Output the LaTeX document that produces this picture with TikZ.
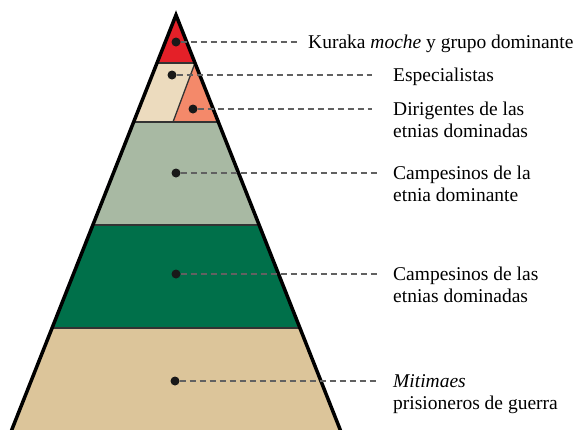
\documentclass[tikz,border=0pt]{standalone}
\usepackage{fontspec}
\setmainfont{Liberation Serif}
\definecolor{kuraka}{RGB}{228,32,40}
\definecolor{espec}{RGB}{236,219,190}
\definecolor{dirig}{RGB}{244,137,106}
\definecolor{campdom}{RGB}{168,185,163}
\definecolor{campsub}{RGB}{0,112,74}
\definecolor{mitimae}{RGB}{220,197,154}
\begin{document}
\begin{tikzpicture}[x=1pt,y=-1pt,
 band/.style={draw=black!80,line width=1.3pt},
 dot/.style={circle,fill=black!90,inner sep=0pt,minimum size=9pt},
 leader/.style={draw=black!62,line width=1.2pt,dash pattern=on 6.5pt off 3.5pt},
 lbl/.style={inner sep=0pt,anchor=base west,font=\fontsize{19.5}{21.5}\selectfont}]
 \useasboundingbox (0,0) rectangle (577,429);
 % bands, top to bottom
 \fill[kuraka] (176,15) -- (195,63) -- (157,63) -- cycle;
 \fill[espec] (157,63) -- (195,63) -- (173,122) -- (133.6,122) -- cycle;
 \fill[dirig] (195,63) -- (218.4,122) -- (173,122) -- cycle;
 \fill[campdom] (133.6,122) -- (218.4,122) -- (259.2,225) -- (92.8,225) -- cycle;
 \fill[campsub] (92.8,225) -- (259.2,225) -- (300,328) -- (52,328) -- cycle;
 \fill[mitimae] (52,328) -- (300,328) -- (341.1,432) -- (10.9,432) -- cycle;
 \draw[band] (157,63) -- (195,63);
 \draw[band] (195,63) -- (173,122);
 \draw[band] (133.6,122) -- (218.4,122);
 \draw[band] (92.8,225) -- (259.2,225);
 \draw[band] (52,328) -- (300,328);
 \draw[line width=3.5pt,line join=miter] (10.9,432) -- (176,15) -- (341.1,432);
 % dots
 \node[dot] (d1) at (176,42) {};
 \node[dot] (d2) at (172,75) {};
 \node[dot] (d3) at (193,109) {};
 \node[dot] (d4) at (176,173) {};
 \node[dot] (d5) at (176,274) {};
 \node[dot] (d6) at (175,381) {};
 % labels
 \node[lbl] (l1) at (308,48.5) {Kuraka \textit{moche} y grupo dominante};
 \node[lbl] (l2) at (393,81.5) {Especialistas};
 \node[lbl] (l3) at (393,115.5) {\begin{tabular}[t]{@{}l@{}}Dirigentes de las\\etnias dominadas\end{tabular}};
 \node[lbl] (l4) at (393,179.5) {\begin{tabular}[t]{@{}l@{}}Campesinos de la\\etnia dominante\end{tabular}};
 \node[lbl] (l5) at (393,280.5) {\begin{tabular}[t]{@{}l@{}}Campesinos de las\\etnias dominadas\end{tabular}};
 \node[lbl] (l6) at (393,387.5) {\begin{tabular}[t]{@{}l@{}}\textit{Mitimaes}\\prisioneros de guerra\end{tabular}};
 % leaders
 \draw[leader,shorten >=8pt] (d1) -- (d1 -| l1.west);
 \draw[leader,shorten >=21pt] (d2) -- (d2 -| l2.west);
 \draw[leader,shorten >=21pt] (d3) -- (d3 -| l3.west);
 \draw[leader,shorten >=16pt] (d4) -- (d4 -| l4.west);
 \draw[leader,shorten >=16pt] (d5) -- (d5 -| l5.west);
 \draw[leader,shorten >=16pt] (d6) -- (d6 -| l6.west);
\end{tikzpicture}
\end{document}
